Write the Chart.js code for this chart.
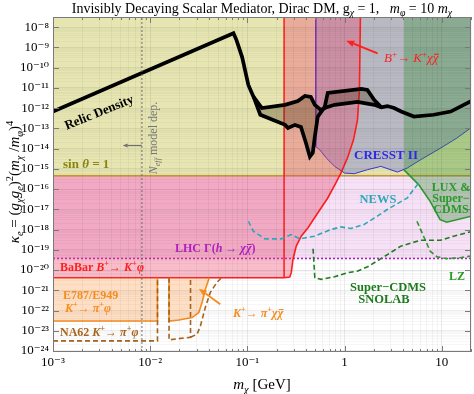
<!DOCTYPE html>
<html>
<head>
<meta charset="utf-8">
<script src="https://cdn.jsdelivr.net/npm/chart.js@4"></script>
<style>html, body { margin: 0; background: #fff; }</style>
</head>
<body>
<canvas id="scalarChart" width="474" height="394"></canvas>
<script>
// every curve below is stored as log10(m_chi / GeV) and log10(kappa_e)
const xTicks = [1e-3, 1e-2, 1e-1, 1, 10];
const xTickLabels = ['10⁻³', '10⁻²', '10⁻¹', '1', '10'];
const yTicks = [1e-8, 1e-9, 1e-10, 1e-11, 1e-12, 1e-13, 1e-14, 1e-15, 1e-16, 1e-17, 1e-18, 1e-19, 1e-20, 1e-21, 1e-22, 1e-23, 1e-24];
const yTickLabels = ['10⁻⁸', '10⁻⁹', '10⁻¹⁰', '10⁻¹¹', '10⁻¹²', '10⁻¹³', '10⁻¹⁴', '10⁻¹⁵', '10⁻¹⁶',
                     '10⁻¹⁷', '10⁻¹⁸', '10⁻¹⁹', '10⁻²⁰', '10⁻²¹', '10⁻²²', '10⁻²³', '10⁻²⁴'];

const logXMin = -3, logXMax = 1.301;
const logYMin = -24.05, logYMax = -7.5;

const sinThetaOne = -15.34;
const lhcHiggs = -19.43;
const babarKphi = -20.38;
const nEffEdge = -2.085;

// relic density, main branch
const relicX = [-3, -1.143, -1.112, -1.054, -0.990, -0.936, -0.850, -0.612, -0.480, -0.408, -0.347, -0.306,
                -0.245, -0.173, -0.102, 0.133, 0.306, 0.378, 0.440, 0.510, 0.582, 0.714, 0.918, 1.092, 1.301];
const relicY = [-12.17, -8.30, -8.64, -9.48, -10.86, -11.45, -12.00, -11.84, -11.65, -11.40, -11.45, -11.84,
                -12.09, -11.94, -11.84, -11.69, -11.84, -11.96, -11.90, -12.00, -12.17, -12.42, -12.33, -12.17, -11.66];
// relic density, second branch
const relicLowX = [-0.936, -0.867, -0.612, -0.582, -0.510, -0.449, -0.398, -0.357, -0.327, -0.306, -0.276,
                   -0.204, -0.173, 0.173, 0.235, 0.306, 0.378];
const relicLowY = [-11.45, -12.33, -12.83, -12.98, -12.83, -12.93, -13.71, -14.40, -14.21, -13.42, -12.43,
                   -11.94, -11.25, -11.05, -11.10, -11.60, -11.96];

// B+ -> K+ chi chibar
const kplusX = [-0.622, -0.622, -0.564, -0.548, -0.531, -0.497, -0.446, -0.378, -0.276, -0.173, -0.089,
                -0.038, 0.031, 0.092, 0.133, 0.153, 0.163];
const kplusY = [-7.5, -20.38, -20.35, -20.13, -19.48, -18.82, -18.33, -17.92, -17.18, -16.44, -15.70,
                -15.21, -14.45, -13.57, -12.58, -11.10, -7.5];

const cresstX = [-0.296, -0.296, -0.255, -0.187, -0.102, 0.0, 0.102, 0.238, 0.374, 0.544, 0.646, 0.783, 0.987, 1.156, 1.301];
const cresstY = [-7.5, -13.90, -14.06, -14.47, -14.88, -15.21, -15.24, -15.04, -14.88, -15.16, -14.96, -14.55, -13.98, -13.48, -12.97];

const luxX = [0.612, 0.612, 0.762, 0.881, 0.983, 1.051, 1.301];
const luxY = [-7.5, -15.05, -15.78, -16.61, -17.51, -17.64, -17.34];

const newsX = [-0.990, -0.939, -0.819, -0.650, -0.548, -0.462, -0.309, -0.140, -0.038, 0.064, 0.201, 0.337, 0.439, 0.646, 0.762];
const newsY = [-17.59, -18.08, -18.46, -18.46, -18.25, -18.46, -18.33, -18.00, -17.87, -17.95, -17.75, -17.34, -17.01, -16.44, -15.70];

const snolabX = [-0.324, -0.306, -0.238, -0.102, 0.034, 0.136, 0.238, 0.374, 0.579, 0.779, 0.987, 1.122, 1.301];
const snolabY = [-18.95, -20.38, -20.46, -20.33, -20.13, -20.05, -19.84, -19.44, -18.82, -18.53, -18.53, -18.33, -18.10];

const lzX = [0.745, 0.813, 0.881, 0.949, 1.051, 1.187, 1.301];
const lzY = [-17.59, -18.33, -19.07, -19.34, -19.44, -19.39, -19.31];

const e787aX = [-3, -1.925, -1.925];
const e787aY = [-22.52, -22.52, -20.38];
const e787bX = [-1.806, -1.806, -1.704, -1.568, -1.5, -1.466, -1.432, -1.398, -1.391];
const e787bY = [-20.38, -22.52, -22.47, -22.35, -22.10, -21.61, -20.96, -20.46, -20.38];

const na62aX = [-3, -1.925, -1.925];
const na62aY = [-23.50, -23.50, -20.38];
const na62bX = [-1.806, -1.806, -1.585, -1.585];
const na62bY = [-20.38, -23.45, -23.32, -20.38];
const na62cX = [-1.585, -1.517, -1.483, -1.432, -1.381, -1.313, -1.262];
const na62cY = [-23.32, -23.17, -22.76, -21.84, -21.10, -20.61, -20.36];

const SERIF = '"Liberation Serif", "DejaVu Serif", serif';
const pinkFill = 'rgba(236,72,112,0.37)';
const red = '#ff1f1f';
const orange = '#f58c1e';

const P = (xs, ys) => xs.map((x, i) => ({x: 10 ** x, y: 10 ** ys[i]}));
const flat = (v) => P([logXMin, logXMax], [v, v]);
const hideFirst = {borderColor: c => c.p0DataIndex === 0 ? 'rgba(0,0,0,0)' : undefined};

const relicLowSet = {data: P(relicLowX, relicLowY), borderColor: '#000', borderWidth: 3.7, order: 4};
const bandSet = {
    data: P(relicX, relicY).filter(p => p.x >= 10 ** relicLowX[0] - 1e-9 && p.x <= 10 ** relicLowX[relicLowX.length - 1] + 1e-9),
    borderColor: 'rgba(0,0,0,0)', borderWidth: 1, backgroundColor: 'rgba(60,45,10,0.3)', order: 6
};

const datasets = [
    // LHC h -> chi chibar
    {data: flat(lhcHiggs), borderColor: '#b020c0', borderDash: [2, 2], fill: 'end', backgroundColor: '#f6e1f6', order: 100},
    // BaBar B+ -> K+ phi
    {data: P([logXMin, -0.622], [babarKphi, babarKphi]), borderColor: red, fill: 'end', backgroundColor: pinkFill, order: 90},
    {data: P(e787aX, e787aY), borderColor: orange, fill: {value: 10 ** babarKphi}, backgroundColor: 'rgba(255,150,60,0.3)', order: 85},
    {data: P(e787bX, e787bY), borderColor: orange, fill: {value: 10 ** babarKphi}, backgroundColor: 'rgba(255,150,60,0.3)', order: 85},
    // sin theta = 1
    {data: flat(sinThetaOne), borderColor: '#c89628', fill: 'end', backgroundColor: '#e7e6b3', order: 70},
    {data: P(cresstX, cresstY), borderColor: '#3c34dc', borderWidth: 1, fill: 'end', backgroundColor: 'rgba(105,105,225,0.36)', order: 60},
    {data: P(kplusX, kplusY), borderColor: red, fill: 'end', backgroundColor: pinkFill, order: 50,
     segment: {borderWidth: c => c.p0DataIndex === 0 ? 0.8 : undefined}},
    {data: P(luxX, luxY), borderColor: '#2e9a2e', fill: 'end', backgroundColor: 'rgba(40,140,40,0.32)', order: 40, segment: hideFirst},
    bandSet,
    {data: P(relicX, relicY), borderColor: '#000', borderWidth: 3.7, order: 4},
    relicLowSet,
    {data: P(newsX, newsY), borderColor: '#2eaabb', borderDash: [5, 3], order: 3},
    {data: P(snolabX, snolabY), borderColor: '#1f7f1f', borderDash: [5, 3], order: 3},
    {data: P(lzX, lzY), borderColor: '#2e9a2e', borderDash: [5, 3], order: 3},
    {data: P(na62aX, na62aY), borderColor: '#a8641e', borderDash: [5, 3], order: 3},
    {data: P(na62bX, na62bY), borderColor: '#a8641e', borderDash: [5, 3], order: 3},
    {data: P(na62cX, na62cY), borderColor: '#a8641e', borderDash: [5, 3], order: 3},
    {data: P([nEffEdge, nEffEdge], [logYMin, logYMax]), borderColor: '#707070', borderWidth: 1, borderDash: [2, 2], order: 1}
];
bandSet.fill = datasets.indexOf(relicLowSet);

const arrows = [
    {from: [-2.085, -13.85], to: [-2.283, -13.85], color: '#707070', width: 1.3, head: 5},
    {from: [0.340, -9.30], to: [0.017, -8.67], color: red, width: 1.8, head: 8},
    {from: [-1.279, -21.69], to: [-1.5, -20.92], color: orange, width: 1.8, head: 8}
];

const labels = [
    {parts: [['Invisibly Decaying Scalar Mediator, Dirac DM, g', 'n'], ['χ', 's'], [' = 1,   ', 'n'], ['m', 'i'], ['φ', 's'], [' = 10 ', 'n'], ['m', 'i'], ['χ', 's']],
     x: 262, y: 8, size: 14, color: '#000', align: 'center'},
    {parts: [['κ', 'i'], ['e', 's'], [' = (', 'n'], ['g', 'i'], ['χ', 's'], ['g', 'i'], ['e', 's'], [')', 'n'], ['2', 'p'], ['(', 'n'],
             ['m', 'i'], ['χ', 's'], [' /', 'n'], ['m', 'i'], ['φ', 's'], [')', 'n'], ['4', 'p']],
     x: 14, y: 182, size: 15, color: '#000', align: 'center', angle: -90},
    {parts: [['m', 'i'], ['χ', 's'], [' [GeV]', 'n']], x: 262, y: 384, size: 15, color: '#000', align: 'center'},
    {parts: [['Relic Density', 'n']], x: 99, y: 112, size: 13, bold: true, color: '#000', align: 'center', angle: -22},
    {parts: [['sin ', 'n'], ['θ', 'i'], [' = 1', 'n']], x: 63, y: 164, size: 13, bold: true, color: '#8a8410'},
    {parts: [['N', 'i'], ['eff', 's'], [' model dep.', 'n']], x: 153, y: 138, size: 12, color: '#777', align: 'center', angle: -90},
    {parts: [['B', 'i'], ['+', 'p'], ['→ ', 'n'], ['K', 'i'], ['+', 'p'], ['χ', 'i'], ['χ', 'o']], x: 384, y: 58, size: 13, color: red},
    {parts: [['CRESST II', 'n']], x: 386, y: 155, size: 13, bold: true, color: '#2a2ae6', align: 'center'},
    {parts: [['NEWS', 'n']], x: 378, y: 199, size: 12.5, bold: true, color: '#2aaab8', align: 'center'},
    {parts: [['LUX &', 'n']], x: 451, y: 187, size: 12, bold: true, color: '#2a9a2a', align: 'center'},
    {parts: [['Super−', 'n']], x: 451, y: 198, size: 12, bold: true, color: '#2a9a2a', align: 'center'},
    {parts: [['CDMS', 'n']], x: 451, y: 209, size: 12, bold: true, color: '#2a9a2a', align: 'center'},
    {parts: [['LZ', 'n']], x: 457, y: 276, size: 12, bold: true, color: '#2a9a2a', align: 'center'},
    {parts: [['Super−CDMS', 'n']], x: 388, y: 287, size: 12.5, bold: true, color: '#1e7a1e', align: 'center'},
    {parts: [['SNOLAB', 'n']], x: 384, y: 299, size: 12.5, bold: true, color: '#1e7a1e', align: 'center'},
    {parts: [['LHC Γ(', 'n'], ['h', 'i'], [' → ', 'n'], ['χ', 'i'], ['χ', 'o'], [')', 'n']], x: 175, y: 248, size: 12, bold: true, color: '#b020c0'},
    {parts: [['BaBar ', 'n'], ['B', 'i'], ['+', 'p'], ['→ ', 'n'], ['K', 'i'], ['+', 'p'], ['φ', 'i']], x: 60, y: 267, size: 12, bold: true, color: red},
    {parts: [['E787/E949', 'n']], x: 63, y: 295, size: 12, bold: true, color: orange},
    {parts: [['K', 'i'], ['+', 'p'], ['→ ', 'n'], ['π', 'i'], ['+', 'p'], ['φ', 'i']], x: 65, y: 308, size: 12, bold: true, color: orange},
    {parts: [['NA62 ', 'n'], ['K', 'i'], ['+', 'p'], ['→ ', 'n'], ['π', 'i'], ['+', 'p'], ['φ', 'i']], x: 60, y: 332, size: 12, bold: true, color: '#a8641e'},
    {parts: [['K', 'i'], ['+', 'p'], ['→ ', 'n'], ['π', 'i'], ['+', 'p'], ['χ', 'i'], ['χ', 'o']], x: 233, y: 313, size: 12, bold: true, color: orange}
];

function drawRich(ctx, item) {
    const size = item.size;
    const pieces = item.parts.map(([text, kind]) => {
        const small = kind === 's' || kind === 'p';
        const italic = kind === 'i' || kind === 's' || kind === 'o';
        const f = (italic ? 'italic ' : '') + (item.bold ? 'bold ' : '') + (small ? size * 0.7 : size) + 'px ' + SERIF;
        ctx.font = f;
        return {text, kind, f, w: ctx.measureText(text).width,
                dy: kind === 's' ? size * 0.25 : kind === 'p' ? -size * 0.42 : 0};
    });
    const total = pieces.reduce((s, p) => s + p.w, 0);
    ctx.save();
    ctx.translate(item.x, item.y);
    if (item.angle) ctx.rotate(item.angle * Math.PI / 180);
    ctx.fillStyle = item.color;
    ctx.strokeStyle = item.color;
    ctx.textAlign = 'left';
    ctx.textBaseline = 'alphabetic';
    let cx = item.align === 'center' ? -total / 2 : 0;
    const base = size * 0.33;
    for (const p of pieces) {
        ctx.font = p.f;
        ctx.fillText(p.text, cx, base + p.dy);
        if (p.kind === 'o') {
            ctx.lineWidth = Math.max(1, size / 12);
            ctx.beginPath();
            ctx.moveTo(cx + p.w * 0.2, base - size * 0.62);
            ctx.lineTo(cx + p.w * 1.05, base - size * 0.62);
            ctx.stroke();
        }
        cx += p.w;
    }
    ctx.restore();
}

const annotations = {
    id: 'annotations',
    afterDraw(chart) {
        const {ctx, chartArea: a, scales: {x, y}} = chart;
        ctx.save();
        // frame with inward ticks
        ctx.strokeStyle = '#7a7a7a';
        ctx.lineWidth = 1;
        ctx.strokeRect(a.left + 0.5, a.top + 0.5, a.right - a.left - 1, a.bottom - a.top - 1);
        ctx.beginPath();
        for (let e = -3; e <= 1; e++) {
            for (let m = 1; m <= 9; m++) {
                const v = m * 10 ** e;
                if (v > 20) break;
                const px = Math.round(x.getPixelForValue(v)) + 0.5;
                const len = m === 1 ? 6 : 3;
                ctx.moveTo(px, a.bottom); ctx.lineTo(px, a.bottom - len);
                ctx.moveTo(px, a.top); ctx.lineTo(px, a.top + len);
            }
        }
        yTicks.forEach(v => {
            const py = Math.round(y.getPixelForValue(v)) + 0.5;
            ctx.moveTo(a.left, py); ctx.lineTo(a.left + 6, py);
            ctx.moveTo(a.right, py); ctx.lineTo(a.right - 6, py);
        });
        ctx.stroke();

        for (const ar of arrows) {
            const x0 = x.getPixelForValue(10 ** ar.from[0]), y0 = y.getPixelForValue(10 ** ar.from[1]);
            const x1 = x.getPixelForValue(10 ** ar.to[0]), y1 = y.getPixelForValue(10 ** ar.to[1]);
            const ang = Math.atan2(y1 - y0, x1 - x0);
            const hx = x1 - ar.head * Math.cos(ang), hy = y1 - ar.head * Math.sin(ang);
            ctx.strokeStyle = ar.color;
            ctx.fillStyle = ar.color;
            ctx.lineWidth = ar.width;
            ctx.beginPath();
            ctx.moveTo(x0, y0);
            ctx.lineTo(hx, hy);
            ctx.stroke();
            ctx.beginPath();
            ctx.moveTo(x1, y1);
            ctx.lineTo(hx + ar.head * 0.4 * Math.sin(ang), hy - ar.head * 0.4 * Math.cos(ang));
            ctx.lineTo(hx - ar.head * 0.4 * Math.sin(ang), hy + ar.head * 0.4 * Math.cos(ang));
            ctx.closePath();
            ctx.fill();
        }
        ctx.restore();
        labels.forEach(l => drawRich(ctx, l));
    }
};

function minorTicks(majors) {
    const out = [];
    majors.forEach(v => { for (let m = 1; m <= 9; m++) out.push(v * m); });
    return out;
}
const isDecade = v => Math.abs(Math.log10(v) - Math.round(Math.log10(v))) < 1e-6;
const labelFor = (vals, names) => v => {
    const i = vals.findIndex(t => Math.abs(Math.log10(t) - Math.log10(v)) < 1e-6);
    return i >= 0 ? names[i] : '';
};

new Chart(document.getElementById('scalarChart'), {
    type: 'line',
    data: {datasets: datasets},
    options: {
        responsive: false,
        animation: false,
        events: [],
        layout: {padding: {top: 17, right: 1, left: 0, bottom: 0}},
        elements: {
            point: {radius: 0},
            line: {borderWidth: 1.6, tension: 0, fill: false}
        },
        plugins: {
            legend: {display: false},
            tooltip: {enabled: false},
            filler: {propagate: false}
        },
        scales: {
            x: {
                type: 'logarithmic',
                min: 10 ** logXMin,
                max: 20,
                afterBuildTicks: s => { s.ticks = minorTicks(xTicks).filter(v => v <= 20).map(v => ({value: v})); },
                afterFit: s => { s.height = 42; },
                border: {display: false},
                grid: {z: 1, drawTicks: false,
                       color: c => isDecade(c.tick.value) ? 'rgba(0,0,0,0.08)' : 'rgba(0,0,0,0.045)'},
                ticks: {autoSkip: false, maxRotation: 0, minRotation: 0, padding: 3, color: '#000',
                        font: {family: SERIF, size: 13}, callback: labelFor(xTicks, xTickLabels)}
            },
            y: {
                type: 'logarithmic',
                min: 10 ** logYMin,
                max: 10 ** logYMax,
                afterBuildTicks: s => { s.ticks = minorTicks(yTicks.slice(1)).concat([1e-8]).map(v => ({value: v})); },
                afterFit: s => { s.width = 53; },
                border: {display: false},
                grid: {z: 1, drawTicks: false,
                       color: c => isDecade(c.tick.value) ? 'rgba(0,0,0,0.07)' : 'rgba(0,0,0,0.03)'},
                ticks: {autoSkip: false, padding: 4, color: '#000',
                        font: {family: SERIF, size: 13}, callback: labelFor(yTicks, yTickLabels)}
            }
        }
    },
    plugins: [annotations]
});
</script>
</body>
</html>
